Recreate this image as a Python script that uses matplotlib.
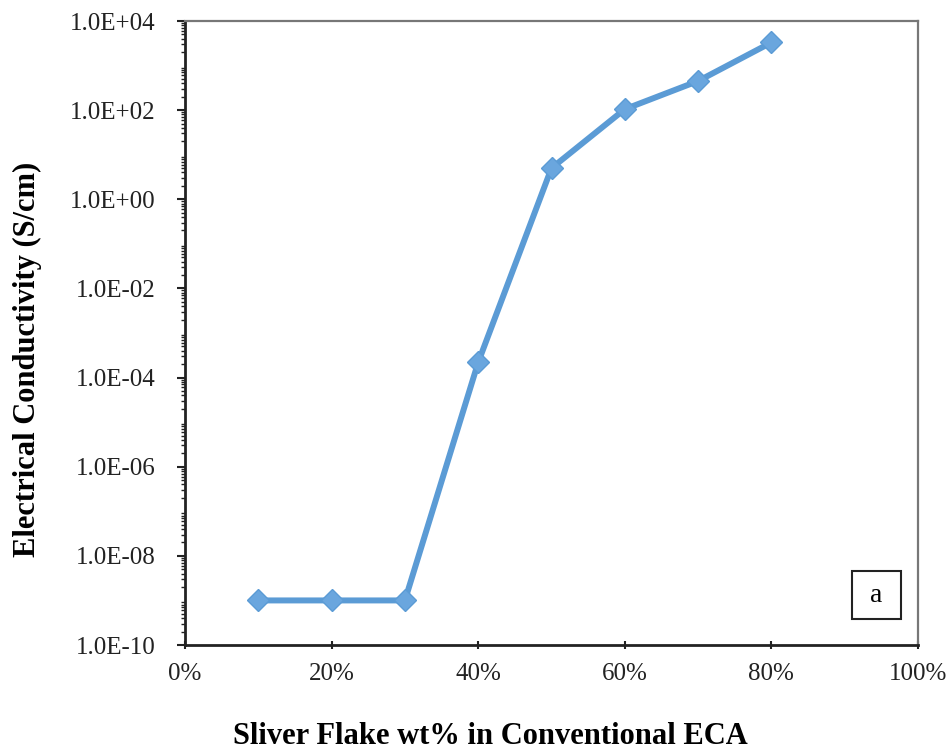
import numpy as np
import matplotlib.pyplot as plt
from matplotlib.ticker import FixedLocator, LogLocator, NullFormatter

# silver flake loading vs conductivity
wt = [0.10, 0.20, 0.30, 0.40, 0.50, 0.60, 0.70, 0.80]
sigma = [1e-9, 1e-9, 1e-9, 2.2e-4, 5.0, 105, 450, 3300]

xticks = [0, 0.2, 0.4, 0.6, 0.8, 1.0]
xlabels = ['0%', '20%', '40%', '60%', '80%', '100%']
yticks = [1e-10, 1e-8, 1e-6, 1e-4, 1e-2, 1e0, 1e2, 1e4]
ylabels = ['1.0E-10', '1.0E-08', '1.0E-06', '1.0E-04', '1.0E-02', '1.0E+00', '1.0E+02', '1.0E+04']

plt.rcParams['font.family'] = ['Liberation Serif', 'DejaVu Serif']

fig = plt.figure(figsize=(9.52, 7.53), dpi=100)
ax = fig.add_axes([185/952, 1-645/753, 733/952, 624/753])

ax.plot(wt, sigma, color='#5B9BD5', lw=4.3, marker='D', ms=11,
        markerfacecolor='#6AA6DE', markeredgecolor='#5B9BD5')

ax.set_yscale('log')
ax.set_xlim(0, 1.0)
ax.set_ylim(1e-10, 1e4)
ax.xaxis.set_major_locator(FixedLocator(xticks))
ax.set_xticklabels(xlabels)
ax.yaxis.set_major_locator(FixedLocator(yticks))
ax.set_yticklabels(ylabels)
ax.yaxis.set_minor_locator(LogLocator(base=10, subs=np.arange(2, 10), numticks=30))
ax.yaxis.set_minor_formatter(NullFormatter())

ax.tick_params(axis='both', which='major', labelsize=18, length=6, width=1.5,
               colors='#222222')
ax.tick_params(axis='x', direction='inout', pad=10)
ax.tick_params(axis='y', direction='out', pad=15)
ax.tick_params(axis='y', which='minor', length=3, width=1, direction='out', colors='#222222')

for s in ['left', 'bottom']:
    ax.spines[s].set_linewidth(2.0)
    ax.spines[s].set_color('#222222')
for s in ['top', 'right']:
    ax.spines[s].set_linewidth(1.6)
    ax.spines[s].set_color('#777777')

ax.set_xlabel('Sliver Flake wt% in Conventional ECA', fontsize=22, fontweight='bold')
ax.set_ylabel('Electrical Conductivity (S/cm)', fontsize=22, fontweight='bold')
ax.xaxis.set_label_coords(0.416, -0.123)
ax.yaxis.set_label_coords(-0.2156, 0.458)
ax.yaxis.label.set_va('center')

ax.text(0.943, 0.08, ' a ', transform=ax.transAxes, fontsize=20, ha='center', va='center',
        bbox=dict(boxstyle='square,pad=0.4', facecolor='white', edgecolor='#222222', lw=1.5))

fig.savefig('out.png', dpi=100)
